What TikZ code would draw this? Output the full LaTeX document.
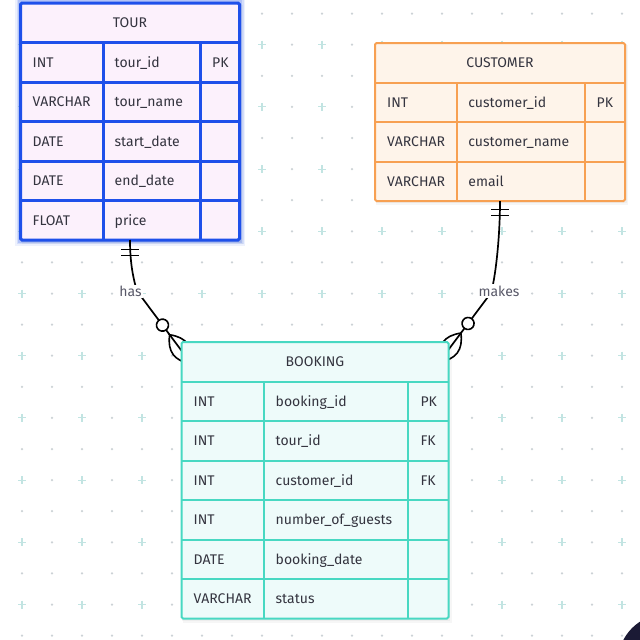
\documentclass[tikz,border=0pt]{standalone}
\usepackage{fontspec}
\setmainfont{Fira Sans}
\usetikzlibrary{calc}

\definecolor{ink}{HTML}{34343F}
\definecolor{labelink}{HTML}{585868}
\definecolor{dotgray}{HTML}{CCD2D6}
\definecolor{plusteal}{HTML}{C2E4E2}
\definecolor{tourline}{HTML}{1E50EA}
\definecolor{tourfill}{HTML}{FCF1FC}
\definecolor{custline}{HTML}{F7A052}
\definecolor{custfill}{HTML}{FEF4EA}
\definecolor{bookline}{HTML}{48D8C2}
\definecolor{bookfill}{HTML}{EEFBFA}
\definecolor{widget}{HTML}{1B1A35}

\def\errowh{39.5}

\tikzset{
  every node/.style={font=\fontsize{14}{16}\selectfont, text=ink, inner sep=0pt},
  tablebox/.style={draw, rectangle, rounded corners=1.5pt, inner sep=0pt, outer sep=0pt},
  titletext/.style={anchor=base},
  celltext/.style={anchor=base west},
  relline/.style={draw=black, line width=1.7pt},
  marker/.style={draw=black, line width=1.6pt},
  edgelabel/.style={anchor=base, fill=white, text=labelink, inner sep=1.5pt},
}

% frame, shadow, title and row rules of one entity:
% name, colour prefix, left, top, right, row count, rule width, title
\newcommand\ertable[8]{%
  \pgfmathsetmacro\ertw{#5-#3}%
  \pgfmathsetmacro\erth{(#6+1)*\errowh}%
  \fill[black, opacity=0.035] ({#3+1},{#4+2}) rectangle ({#5+3},{#4+\erth+4});
  \fill[black, opacity=0.035] ({#3+0.5},{#4+1}) rectangle ({#5+1.5},{#4+\erth+2});
  \node[tablebox, draw=#2line, fill=#2fill, line width=#7pt,
        minimum width=\ertw pt, minimum height=\erth pt]
    (#1) at ({(#3+#5)/2},{#4+\erth/2}) {};
  \node[titletext] (#1-title) at ({(#3+#5)/2},{#4+\errowh/2+5}) {#8};
  \foreach \k in {1,...,#6}{%
    \draw[#2line, line width=#7pt] (#3,{#4+\k*\errowh}) -- (#5,{#4+\k*\errowh});
  }%
}
% column rules: colour prefix, top, row count, divider 1, divider 2, rule width
\newcommand\ercols[6]{%
  \pgfmathsetmacro\erbot{#2+(#3+1)*\errowh}%
  \draw[#1line, line width=#6pt] (#4,{#2+\errowh}) -- (#4,\erbot) (#5,{#2+\errowh}) -- (#5,\erbot);
}
% attribute rows: name, left, top, divider 1, divider 2, rows
\newcommand\ercells[6]{%
  \foreach \ty/\nm/\ky [count=\k] in {#6}{%
    \pgfmathsetmacro\erby{#3+(\k+0.5)*\errowh+5}%
    \node[celltext] (#1-type-\k) at ({#2+12},\erby) {\ty};
    \node[celltext] (#1-name-\k) at ({#4+11.5},\erby) {\nm};
    \node[celltext] (#1-key-\k) at ({#5+12},\erby) {\ky};
  }%
}

\begin{document}
\begin{tikzpicture}[x=1pt, y=-1pt]
\useasboundingbox (0,0) rectangle (640,640);
\fill[white] (0,0) rectangle (640,640);

% dotted canvas with small crosses
\foreach \i in {0,...,20}{%
  \foreach \j in {0,...,20}{%
    \pgfmathsetmacro\gx{22+30*\i}%
    \pgfmathsetmacro\gy{13.6+31.1*\j}%
    \ifodd\j
      \ifodd\i
        \fill[dotgray] (\gx,\gy) circle (1.25pt);
      \else
        \draw[plusteal, line width=1.1pt] (\gx-4,\gy) -- (\gx+4,\gy) (\gx,\gy-4) -- (\gx,\gy+4);
      \fi
    \else
      \fill[dotgray] (\gx,\gy) circle (1.25pt);
    \fi
  }%
}

% glow around the selected entity
\draw[tourline, opacity=0.08, line width=11pt] (20.5,3) rectangle (239.5,240);
\draw[tourline, opacity=0.12, line width=8pt] (20.5,3) rectangle (239.5,240);
\draw[tourline, opacity=0.18, line width=5.5pt] (20.5,3) rectangle (239.5,240);

% entities
\ertable{tour}{tour}{20.5}{3}{239.5}{5}{3}{TOUR}
\ercols{tour}{3}{5}{103}{200}{3}
\ercells{tour}{20.5}{3}{103}{200}{INT/tour\_id/PK, VARCHAR/tour\_name/{}, DATE/start\_date/{}, DATE/end\_date/{}, FLOAT/price/{}}

\ertable{customer}{cust}{375}{43}{625}{3}{2}{CUSTOMER}
\ercols{cust}{43}{3}{456.7}{584.5}{2}
\ercells{customer}{375}{43}{456.7}{584.5}{INT/customer\_id/PK, VARCHAR/customer\_name/{}, VARCHAR/email/{}}

% relationship ends
\coordinate (has-start) at (tour.south);
\coordinate (has-bend) at (137,291);
\coordinate (makes-start) at (customer.south);
\coordinate (makes-bend) at (490.9,293);

% relationship lines, drawn below the booking entity
\begin{scope}
\coordinate (has-end) at (184,354);
\coordinate (makes-end) at (446.5,352.3);
\draw[relline] (has-start) .. controls ($(has-start)+(0,22)$) and (133,278) .. (has-bend) -- (has-end);
\draw[relline] (makes-start) .. controls ($(makes-start)+(0,39)$) and (495,280) .. (makes-bend) -- (makes-end);

% exactly-one bars
\draw[marker] ($(has-start)+(-9,9.5)$) -- ($(has-start)+(9,9.5)$)
              ($(has-start)+(-9,15.5)$) -- ($(has-start)+(9,15.5)$);
\draw[marker] ($(makes-start)+(-9,8.5)$) -- ($(makes-start)+(9,8.5)$)
              ($(makes-start)+(-9,14.5)$) -- ($(makes-start)+(9,14.5)$);

% zero-or-many feet
\begin{scope}[shift={(has-end)}, rotate=-53.3]
  \draw[marker] (-24,0) .. controls (-12,-12) and (0,-12) .. (12,0)
                        .. controls (0,12) and (-12,12) .. cycle;
  \draw[marker, fill=white] (-36,0) circle (6pt);
\end{scope}
\begin{scope}[shift={(makes-end)}, rotate=-126.8]
  \draw[marker] (-24,0) .. controls (-12,-12) and (0,-12) .. (12,0)
                        .. controls (0,12) and (-12,12) .. cycle;
  \draw[marker, fill=white] (-36,0) circle (6pt);
\end{scope}
\end{scope}

\ertable{booking}{book}{181.5}{342}{448.5}{6}{2}{BOOKING}
\ercols{book}{342}{6}{264}{408.3}{2}
\ercells{booking}{181.5}{342}{264}{408.3}{INT/booking\_id/PK, INT/tour\_id/FK, INT/customer\_id/FK, INT/number\_of\_guests/{}, DATE/booking\_date/{}, VARCHAR/status/{}}

% relationship names
\node[edgelabel] (has-label) at (130.5,296.7) {has};
\node[edgelabel] (makes-label) at (499,296) {makes};

% round button in the corner
\fill[widget] (666,662) circle (48pt);
\end{tikzpicture}
\end{document}
